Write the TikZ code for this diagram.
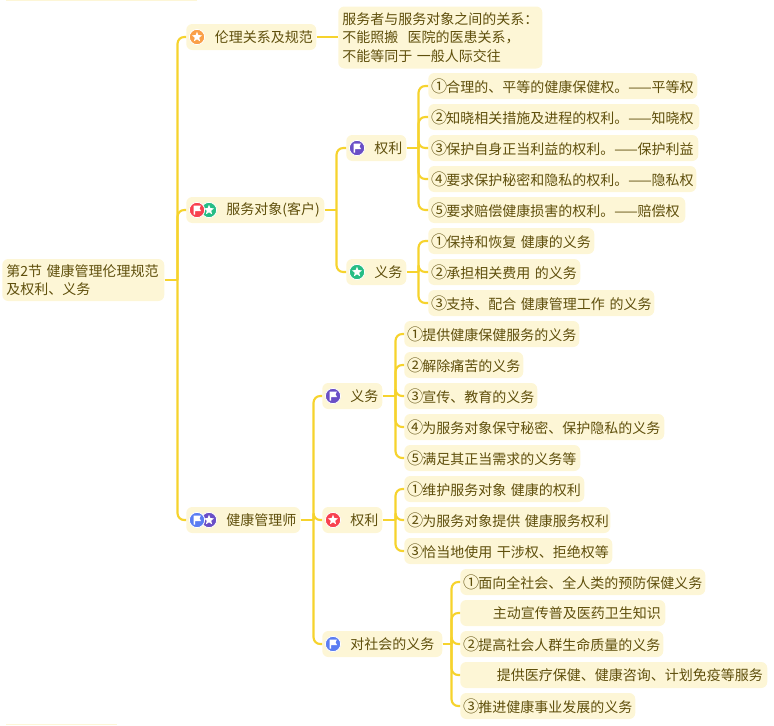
\documentclass[tikz,border=0pt]{standalone}
\usepackage{fontspec}
\newfontfamily\cjk{Noto Sans CJK SC}
\usetikzlibrary{shapes.geometric}
\definecolor{boxfill}{HTML}{FDF6D6}
\definecolor{boxtext}{HTML}{5F4F0C}
\definecolor{linkcol}{HTML}{F6D32D}
\definecolor{icorange}{HTML}{FA9F47}
\definecolor{icred}{HTML}{F8414F}
\definecolor{icgreen}{HTML}{26BD85}
\definecolor{icpurple}{HTML}{6A4FC6}
\definecolor{icblue}{HTML}{5B7DF2}
\newdimen\pxu \pxu=0.75pt
\tikzset{
  x=0.75pt,y=-0.75pt,
  box/.style={fill=boxfill,rounded corners=4.5pt,inner xsep=0pt,inner ysep=0pt,
    minimum height=19.5pt,align=left,text=boxtext,anchor=west,
    font=\cjk\fontsize{10.5pt}{13.9pt}\selectfont},
  link/.style={draw=linkcol,line width=1.6pt,rounded corners=5pt},
  disc/.style={circle,draw=white,line width=0.6pt,minimum size=11.5pt,inner sep=0pt},
  starmark/.style={star,star points=5,star point ratio=2.3,fill=white,minimum size=8pt,inner sep=0pt},
}
% name, left, right, centre y, text offset, text
\newcommand\bx[6]{\node[box,minimum width={(#3-#2)*0.75pt},text width={(#3-#2)*0.75pt}] (#1) at (#2,#4) {\hspace*{#5\pxu}\raisebox{-0.9\pxu}{#6}};}
\newcommand\dg[1]{\makebox[14\pxu][c]{\scalebox{1.15}{#1}}}
\newcommand\staricon[4]{\node[disc,fill=#4] (#1) at (#2,#3) {}; \node[starmark] (#1s) at (#2,#3) {};}
\newcommand\flagicon[4]{\node[disc,fill=#4] (#1) at (#2,#3) {};
  \fill[white] (#1.center) ++(-3.5,-4.5) -- ++(7.5,0) -- ++(-1.5,2.7) -- ++(1.5,2.8) -- ++(-6,0) -- ++(0,3.5) -- ++(-1.5,0) -- cycle;}
% parent, distance to bus, list of children
\newcommand\branch[3]{\draw[link] (#1.east) -- ++(#2,0);
  \foreach \c in {#3}{\draw[link] (#1.east) ++(#2,0) |- (\c.west);}}
\begin{document}
\begin{tikzpicture}
\useasboundingbox (0,0) rectangle (774,725);
% clipped neighbours at the page edges
\fill[boxfill] (6,0) rectangle (197,1);
\fill[boxfill] (117,725) rectangle (6,724);
% nodes
\node[box,minimum height=31.5pt,minimum width=121.5pt,text width=121.5pt] (root) at (2,280)
  {\hspace*{4\pxu}第2节~健康管理伦理规范\\\hspace*{4\pxu}及权利、义务};
\node[box,minimum height=46.5pt,minimum width=153pt,text width=153pt] (note) at (338,37.5)
  {\hspace*{4\pxu}服务者与服务对象之间的关系：\\\hspace*{4\pxu}不能照搬~~医院的医患关系，\\\hspace*{4\pxu}不能等同于~一般人际交往};
\bx{lun}{186}{316}{37}{28.5}{伦理关系及规范}
\bx{fu}{186}{324}{210}{40}{服务对象(客户)}
\bx{jian}{186}{300}{520}{40}{健康管理师}
\bx{quan}{346}{406}{148}{28}{权利}
\bx{yi}{346}{406}{272}{28}{义务}
\bx{qa}{428}{697}{86}{4}{\dg{①}合理的、平等的健康保健权。——平等权}
\bx{qb}{428}{699}{117}{4}{\dg{②}知晓相关措施及进程的权利。——知晓权}
\bx{qc}{428}{698}{148}{4}{\dg{③}保护自身正当利益的权利。——保护利益}
\bx{qd}{428}{696}{179}{4}{\dg{④}要求保护秘密和隐私的权利。——隐私权}
\bx{qe}{428}{685}{210}{4}{\dg{⑤}要求赔偿健康损害的权利。——赔偿权}
\bx{ya}{428}{594}{241}{4}{\dg{①}保持和恢复~健康的义务}
\bx{yb}{428}{580}{272}{4}{\dg{②}承担相关费用~的义务}
\bx{yc}{428}{654}{303}{4}{\dg{③}支持、配合~健康管理工作~的义务}
\bx{hy}{322}{382}{396}{28}{义务}
\bx{hq}{322}{382}{520}{28}{权利}
\bx{hs}{322}{442}{644}{28}{对社会的义务}
\bx{hya}{404}{579}{334}{4}{\dg{①}提供健康保健服务的义务}
\bx{hyb}{404}{523}{365}{4}{\dg{②}解除痛苦的义务}
\bx{hyc}{404}{537}{396}{4}{\dg{③}宣传、教育的义务}
\bx{hyd}{404}{664}{427}{4}{\dg{④}为服务对象保守秘密、保护隐私的义务}
\bx{hye}{404}{580}{458}{4}{\dg{⑤}满足其正当需求的义务等}
\bx{hqa}{404}{584}{489}{4}{\dg{①}维护服务对象~健康的权利}
\bx{hqb}{404}{610}{520}{4}{\dg{②}为服务对象提供~健康服务权利}
\bx{hqc}{404}{612}{551}{4}{\dg{③}恰当地使用~干涉权、拒绝权等}
\bx{hsa}{460}{705}{582}{4}{\dg{①}面向全社会、全人类的预防保健义务}
\bx{hsb}{460}{665}{613}{32.5}{主动宣传普及医药卫生知识}
\bx{hsc}{460}{663}{644}{4}{\dg{②}提高社会人群生命质量的义务}
\bx{hsd}{460}{767}{675}{36.5}{提供医疗保健、健康咨询、计划免疫等服务}
\bx{hse}{460}{635}{706}{4}{\dg{③}推进健康事业发展的义务}
% connectors
\branch{root}{13}{lun,fu,jian}
\draw[link] (lun.east) -- (lun.east -| note.west);
\branch{fu}{12}{quan,yi}
\branch{quan}{12}{qa,qb,qc,qd,qe}
\branch{yi}{12}{ya,yb,yc}
\branch{jian}{13}{hy,hq,hs}
\branch{hy}{13}{hya,hyb,hyc,hyd,hye}
\branch{hq}{13}{hqa,hqb,hqc}
\branch{hs}{9}{hsa,hsb,hsc,hsd,hse}
% icons
\staricon{i1}{197}{37}{icorange}
\staricon{i3}{209}{210}{icgreen}
\flagicon{i2}{197}{210}{icred}
\flagicon{i4}{357}{148}{icpurple}
\staricon{i5}{357}{272}{icgreen}
\staricon{i7}{209}{520}{icpurple}
\flagicon{i6}{197}{520}{icblue}
\flagicon{i8}{333}{396}{icpurple}
\staricon{i9}{333}{520}{icred}
\flagicon{i10}{333}{644}{icblue}
\end{tikzpicture}
\end{document}
